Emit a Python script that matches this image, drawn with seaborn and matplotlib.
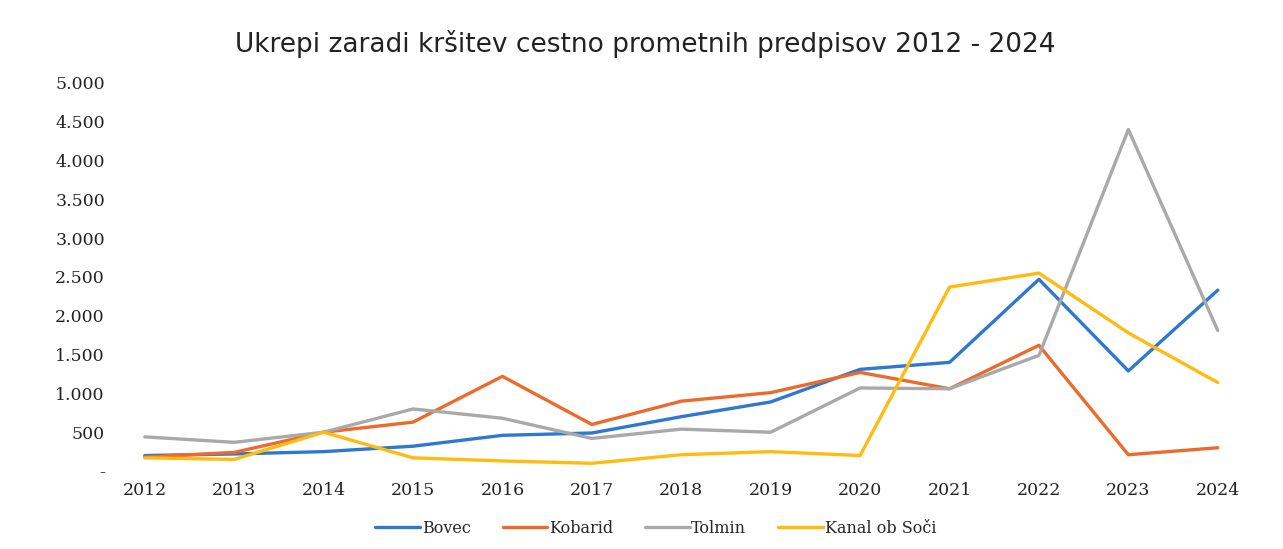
import matplotlib
matplotlib.use("Agg")
import matplotlib.pyplot as plt
import matplotlib.ticker as mticker
import pandas as pd
import seaborn as sns

years = [2012, 2013, 2014, 2015, 2016, 2017, 2018, 2019, 2020, 2021, 2022, 2023, 2024]
bovec = [200, 220, 250, 320, 460, 490, 700, 890, 1310, 1400, 2470, 1290, 2330]
kobarid = [180, 240, 500, 630, 1220, 600, 900, 1010, 1270, 1060, 1620, 210, 300]
tolmin = [440, 370, 500, 800, 680, 420, 540, 500, 1070, 1060, 1490, 4400, 1810]
kanal = [170, 150, 500, 170, 130, 100, 210, 250, 200, 2370, 2550, 1780, 1140]

series = {"Bovec": bovec, "Kobarid": kobarid, "Tolmin": tolmin, "Kanal ob Soči": kanal}
colors = ["#2F78D2", "#EC6A2C", "#A9A9A9", "#FFBB10"]

rows = []
for name, vals in series.items():
    for i, v in enumerate(vals):
        rows.append({"pos": i, "leto": years[i], "občina": name, "ukrepi": v})
df = pd.DataFrame(rows)

sns.set_style("white")
plt.rcParams['font.family'] = ['DejaVu Serif']

fig = plt.figure(figsize=(12.83, 5.49), dpi=100)
ax = fig.add_axes([0.078, 0.142, 0.906, 0.707])

sns.lineplot(data=df, x="pos", y="ukrepi", hue="občina", palette=colors,
             linewidth=2.4, ax=ax)

ax.set_xlim(-0.5, 12.5)
ax.set_ylim(0, 5000)
ax.set_xticks(range(len(years)))
ax.set_xticklabels([str(y) for y in years], fontsize=12.5, color="#222222")
ax.set_yticks(range(0, 5001, 500))


def fmt(v, pos):
    if v == 0:
        return "-"
    return f"{int(v):,}".replace(",", ".")


ax.yaxis.set_major_formatter(mticker.FuncFormatter(fmt))
ax.tick_params(axis="y", labelsize=12.5, colors="#222222", length=0, pad=-3.5)
ax.tick_params(axis="x", length=0, pad=8)
ax.set_xlabel("")
ax.set_ylabel("")
for s in ax.spines.values():
    s.set_visible(False)

fig.suptitle("Ukrepi zaradi kršitev cestno prometnih predpisov 2012 - 2024",
             x=0.503, y=0.945, fontsize=19, family=['DejaVu Sans'],
             color="#222222")

handles, labels = ax.get_legend_handles_labels()
ax.legend(handles, labels, loc="center", bbox_to_anchor=(0.478, -0.148),
          ncol=4, frameon=False, fontsize=11.5, handlelength=2.8,
          handletextpad=0.1, columnspacing=2.0)

fig.savefig("out.png", dpi=100, facecolor="white")
